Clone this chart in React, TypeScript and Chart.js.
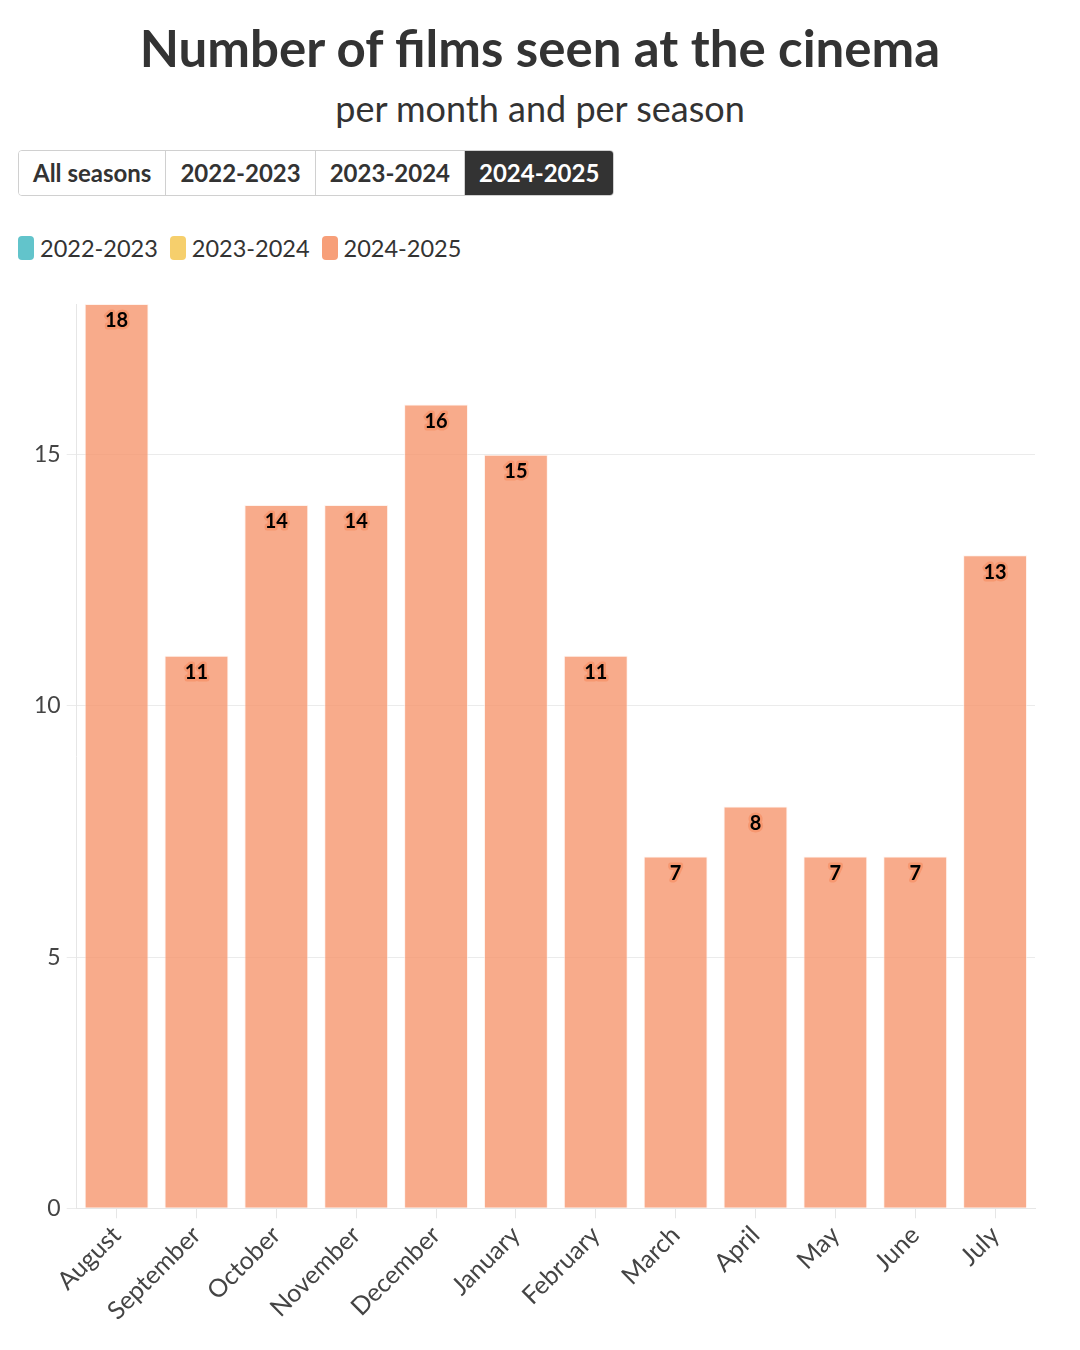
import React, { useRef, useEffect } from "react";
import Chart from "chart.js/auto";

const months = [
  "August",
  "September",
  "October",
  "November",
  "December",
  "January",
  "February",
  "March",
  "April",
  "May",
  "June",
  "July",
];
const seasons = ["2022-2023", "2023-2024", "2024-2025"];
const seasonColors = ["#62c4cb", "#f6cf6c", "#f79f79"];
const films2022: number[] = [];
const films2023: number[] = [];
const films2024 = [18, 11, 14, 14, 16, 15, 11, 7, 8, 7, 7, 13];
const yTicks = [0, 5, 10, 15];
const activeSeason = "2024-2025";

const FONT = "Lato, 'Open Sans', sans-serif";

// writes the value at the top inside each visible bar
const barLabels = {
  id: "barLabels",
  afterDatasetsDraw(chart: any) {
    const ctx = chart.ctx;
    chart.data.datasets.forEach((ds: any, i: number) => {
      const meta = chart.getDatasetMeta(i);
      if (meta.hidden || ds.hidden) return;
      meta.data.forEach((bar: any, j: number) => {
        const v = ds.data[j];
        ctx.save();
        ctx.font = `bold 20px ${FONT}`;
        ctx.textAlign = "center";
        ctx.textBaseline = "middle";
        ctx.lineJoin = "round";
        ctx.lineWidth = 5;
        ctx.strokeStyle = "rgba(246,150,110,0.9)";
        ctx.strokeText(String(v), bar.x, bar.y + 17);
        ctx.fillStyle = "#000";
        ctx.fillText(String(v), bar.x, bar.y + 17);
        ctx.restore();
      });
    });
  },
};

const App = () => {
  const chartRef = useRef<HTMLCanvasElement | null>(null);
  const chartInstanceRef = useRef<Chart | null>(null);

  useEffect(() => {
    const ctx = chartRef.current?.getContext("2d");
    if (chartInstanceRef.current) {
      chartInstanceRef.current.destroy();
    }
    if (ctx) {
      const allData = [films2022, films2023, films2024];
      chartInstanceRef.current = new Chart(ctx, {
        type: "bar",
        data: {
          labels: months,
          datasets: seasons.map((s, i) => ({
            label: s,
            data: allData[i],
            hidden: s !== activeSeason,
            backgroundColor: "rgba(246,150,110,0.8)",
            borderColor: "rgba(255,235,225,0.6)",
            borderWidth: 1,
            barPercentage: 0.8,
            categoryPercentage: 1.0,
          })),
        },
        plugins: [barLabels],
        options: {
          animation: false,
          responsive: true,
          maintainAspectRatio: false,
          layout: { padding: { top: 44, left: 20, right: 37, bottom: 12 } },
          plugins: {
            legend: { display: false },
            tooltip: { enabled: false },
          },
          scales: {
            x: {
              grid: {
                offset: false,
                drawOnChartArea: false,
                drawTicks: true,
                tickLength: 10,
                color: "#e6e6e6",
              },
              border: { color: "#e6e6e6" },
              ticks: {
                autoSkip: false,
                minRotation: 45,
                maxRotation: 45,
                color: "#444",
                padding: 2,
                font: { family: FONT, size: 25 },
              },
            },
            y: {
              min: 0,
              max: 18,
              grid: { color: "#ebebeb", tickLength: 10 },
              border: { color: "#e6e6e6" },
              afterBuildTicks: (axis: any) => {
                axis.ticks = yTicks.map((v) => ({ value: v }));
              },
              ticks: {
                color: "#444",
                padding: 6,
                font: { family: FONT, size: 23 },
              },
            },
          },
        },
      });
    }
    return () => {
      if (chartInstanceRef.current) {
        chartInstanceRef.current.destroy();
        chartInstanceRef.current = null;
      }
    };
  }, []);

  const btnOptions = ["All seasons", ...seasons];

  return (
    <div style={{ fontFamily: FONT, color: "#333" }}>
      <div
        style={{
          height: 80,
          lineHeight: "80px",
          textAlign: "center",
          fontSize: 51,
          fontWeight: 700,
          color: "#333",
        }}
      >
        Number of films seen at the cinema
      </div>
      <div
        style={{
          height: 40,
          lineHeight: "40px",
          textAlign: "center",
          fontSize: 36,
          color: "#333",
        }}
      >
        per month and per season
      </div>
      <div
        style={{
          marginTop: 22,
          marginLeft: 10,
          display: "inline-flex",
          height: 46,
          border: "1px solid #d0d0d0",
          borderRadius: 4,
          overflow: "hidden",
          boxSizing: "border-box",
        }}
      >
        {btnOptions.map((b, i) => (
          <div
            key={b}
            style={{
              padding: "0 14px",
              lineHeight: "44px",
              fontSize: 24,
              fontWeight: 700,
              background: b === activeSeason ? "#333" : "#fff",
              color: b === activeSeason ? "#fff" : "#333",
              borderLeft: i > 0 ? "1px solid #d0d0d0" : "none",
            }}
          >
            {b}
          </div>
        ))}
      </div>
      <div
        style={{
          marginTop: 40,
          marginLeft: 10,
          height: 24,
          display: "flex",
          alignItems: "center",
        }}
      >
        {seasons.map((s, i) => (
          <div
            key={s}
            style={{ display: "flex", alignItems: "center", marginRight: 12 }}
          >
            <span
              style={{
                display: "inline-block",
                width: 16,
                height: 24,
                borderRadius: 4,
                background: seasonColors[i],
                marginRight: 6,
              }}
            />
            <span style={{ fontSize: 23.5, color: "#333" }}>{s}</span>
          </div>
        ))}
      </div>
      <div style={{ position: "relative", width: "100%", height: 1080 }}>
        <canvas ref={chartRef}></canvas>
      </div>
    </div>
  );
};

export default App;
